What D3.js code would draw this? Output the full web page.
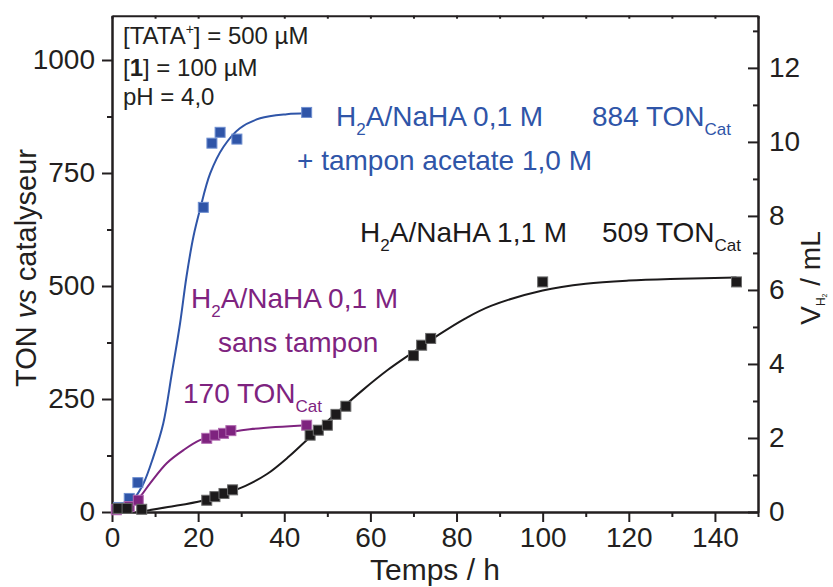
<!DOCTYPE html>
<html>
<head>
<meta charset="utf-8">
<script src="https://cdn.jsdelivr.net/npm/d3@7"></script>
<style>
  html, body { margin: 0; padding: 0; background: #fff; }
  svg { display: block; font-family: "Liberation Sans", Arial, Helvetica, sans-serif; }
</style>
</head>
<body>
<svg id="chart" width="833" height="587"></svg>
<script>
// ---------- data ----------
const xTicksMajor = [0, 20, 40, 60, 80, 100, 120, 140];
const xTicksMinor = [10, 30, 50, 70, 90, 110, 130, 150];
const yLeftTicksMajor = [0, 250, 500, 750, 1000];
const yLeftTicksMinor = [125, 375, 625, 875];
const yRightTicksMajor = [0, 2, 4, 6, 8, 10, 12];
const yRightTicksMinor = [1, 3, 5, 7, 9, 11, 13];

// blue: H2A/NaHA 0,1 M + tampon acetate 1,0 M
const blueTime = [1.5, 4, 6, 21.2, 23.2, 25.1, 29, 45.2];
const blueTON  = [10, 30, 65, 674, 816, 840, 825, 884];
const blueFitTime = [0, 3, 5, 7.3, 9.6, 11.9, 13.9, 15.8, 17.3, 18.9, 20.4, 22.8, 25.9, 29.7, 34.4, 40.6, 45.2];
const blueFitTON  = [3, 12, 28, 63, 122, 196, 307, 417, 521, 609, 668, 749, 808, 849, 871, 880, 882];

// purple: H2A/NaHA 0,1 M sans tampon
const purpleTime = [1, 4, 6.1, 22, 23.9, 25.9, 27.6, 45.2];
const purpleTON  = [5, 12, 26, 163, 170, 174, 180, 192];
const purpleFitTime = [0, 3, 6.1, 8.8, 12.7, 16.6, 20.4, 25.1, 32, 45.2];
const purpleFitTON  = [3, 12, 30, 63, 108, 137, 159, 172, 183, 192];

// black: H2A/NaHA 1,1 M
const blackTime = [1.4, 3.5, 6.9, 22, 23.9, 26, 28, 46, 47.9, 50, 52, 54.3, 70, 71.9, 74, 100, 145];
const blackTON  = [8, 8, 6, 26, 34, 41, 49, 170, 181, 192, 216, 234, 346, 369, 384, 509, 509];
const blackFitTime = [6, 13, 21, 26, 31, 36, 41, 46, 52, 58, 64, 70, 76, 82, 88, 100, 110, 120, 132, 145];
const blackFitTON  = [0, 11, 25, 40, 58, 84, 122, 166, 218, 268, 314, 354, 393, 428, 456, 490, 505, 512, 516, 519];

// ---------- layout ----------
const svg = d3.select("#chart");
const L = 112, R = 758, T = 15.7, B = 512;
const x = d3.scaleLinear().domain([0, 150]).range([L, R]);
const yL = d3.scaleLinear().domain([0, 1098]).range([B, T]);
const yR = d3.scaleLinear().domain([0, 13.41]).range([B, T]);

const axisColor = "#231f20";
const tickFont = 28;
const fmt = d3.format("d");

function styleAxis(g) {
  g.selectAll("path.domain").attr("stroke", axisColor).attr("stroke-width", 2);
  g.selectAll(".tick line").attr("stroke", axisColor).attr("stroke-width", 2);
  g.selectAll(".tick text").attr("fill", axisColor).attr("font-size", tickFont)
    .attr("font-family", '"Liberation Sans", Arial, sans-serif');
}

// bottom axis
svg.append("g").attr("transform", `translate(0,${B})`)
  .call(d3.axisBottom(x).tickValues(xTicksMinor).tickSize(5).tickSizeOuter(0).tickFormat(""))
  .call(styleAxis);
svg.append("g").attr("transform", `translate(0,${B})`)
  .call(d3.axisBottom(x).tickValues(xTicksMajor).tickSize(10).tickSizeOuter(0).tickPadding(5).tickFormat(fmt))
  .call(styleAxis);

// top axis (frame, inward small ticks)
svg.append("g").attr("transform", `translate(0,${T})`)
  .call(d3.axisTop(x).tickValues(xTicksMajor.concat(xTicksMinor)).tickSize(-3).tickSizeOuter(0).tickFormat(""))
  .call(styleAxis);

// left axis
svg.append("g").attr("transform", `translate(${L},0)`)
  .call(d3.axisLeft(yL).tickValues(yLeftTicksMinor).tickSize(5).tickSizeOuter(0).tickFormat(""))
  .call(styleAxis);
svg.append("g").attr("transform", `translate(${L},0)`)
  .call(d3.axisLeft(yL).tickValues(yLeftTicksMajor).tickSize(10).tickSizeOuter(0).tickPadding(7).tickFormat(fmt))
  .call(styleAxis);

// right axis (ticks inward, labels outside)
svg.append("g").attr("transform", `translate(${R},0)`)
  .call(d3.axisRight(yR).tickValues(yRightTicksMinor).tickSize(-5).tickSizeOuter(0).tickFormat(""))
  .call(styleAxis);
svg.append("g").attr("transform", `translate(${R},0)`)
  .call(d3.axisRight(yR).tickValues(yRightTicksMajor).tickSize(-10).tickSizeOuter(0).tickPadding(11).tickFormat(fmt))
  .call(styleAxis);

// ---------- series ----------
const series = [
  { color: "#2f55a8", light: "#6f8fd0", t: blueTime, v: blueTON, ft: blueFitTime, fv: blueFitTON },
  { color: "#7e237f", light: "#b06ab0", t: purpleTime, v: purpleTON, ft: purpleFitTime, fv: purpleFitTON },
  { color: "#1c1a1b", light: "#6a6a6a", t: blackTime, v: blackTON, ft: blackFitTime, fv: blackFitTON }
];

const line = d3.line().x(d => x(d[0])).y(d => yL(d[1])).curve(d3.curveCatmullRom.alpha(0.5));
const ms = 10;

series.forEach(s => {
  const fit = s.ft.map((t, i) => [t, s.fv[i]]);
  svg.append("path").datum(fit).attr("d", line)
    .attr("fill", "none").attr("stroke", s.color).attr("stroke-width", 2);
});
series.forEach(s => {
  const pts = s.t.map((t, i) => [t, s.v[i]]);
  svg.append("g").selectAll("rect").data(pts).join("rect")
    .attr("x", d => x(d[0]) - ms / 2).attr("y", d => yL(d[1]) - ms / 2)
    .attr("width", ms).attr("height", ms)
    .attr("fill", s.color).attr("stroke", s.light).attr("stroke-width", 1);
});

// ---------- text ----------
const txt = (xp, yp, size, color) => svg.append("text").attr("x", xp).attr("y", yp)
  .attr("font-size", size).attr("fill", color);

// conditions
let t1 = txt(123, 44, 24, axisColor);
t1.append("tspan").text("[TATA");
t1.append("tspan").attr("font-size", 14).attr("dy", -10).text("+");
t1.append("tspan").attr("dy", 10).text("] = 500 µM");
let t2 = txt(123, 76, 24, axisColor);
t2.append("tspan").text("[");
t2.append("tspan").attr("font-weight", "bold").text("1");
t2.append("tspan").text("] = 100 µM");
txt(123, 105, 24, axisColor).text("pH = 4,0");

function h2a(xp, yp, color, rest) {
  const t = txt(xp, yp, 28, color);
  t.append("tspan").text("H");
  t.append("tspan").attr("font-size", 17).attr("dy", 9).text("2");
  t.append("tspan").attr("dy", -9).text(rest);
}
function ton(xp, yp, color, num) {
  const t = txt(xp, yp, 28, color);
  t.append("tspan").text(num + " TON");
  t.append("tspan").attr("font-size", 17).attr("dy", 9).text("Cat");
}

const blue = "#2f55a8", purple = "#7e237f", black = "#1c1a1b";
h2a(336, 126, blue, "A/NaHA 0,1 M");
ton(592, 126, blue, "884");
txt(297, 170, 28, blue).text("+ tampon acetate 1,0 M");

h2a(360, 242, black, "A/NaHA 1,1 M");
ton(602, 242, black, "509");

h2a(191, 308, purple, "A/NaHA 0,1 M");
txt(218, 352, 28, purple).text("sans tampon");
ton(183, 403, purple, "170");

// axis titles
svg.append("text").attr("x", 435).attr("y", 580).attr("text-anchor", "middle")
  .attr("font-size", 30).attr("fill", axisColor).text("Temps / h");

const yt = svg.append("text").attr("transform", "translate(36,268) rotate(-90)")
  .attr("text-anchor", "middle").attr("font-size", 29).attr("fill", axisColor);
yt.append("tspan").text("TON ");
yt.append("tspan").attr("font-style", "italic").text("vs");
yt.append("tspan").text(" catalyseur");

const rt = svg.append("text").attr("transform", "translate(820,278) rotate(-90)")
  .attr("text-anchor", "middle").attr("font-size", 28).attr("fill", axisColor);
rt.append("tspan").text("V");
rt.append("tspan").attr("font-size", 12).attr("dy", 5).text("H");
rt.append("tspan").attr("font-size", 7).attr("dy", 2).text("2");
rt.append("tspan").attr("dy", -7).text(" / mL");
</script>
</body>
</html>
